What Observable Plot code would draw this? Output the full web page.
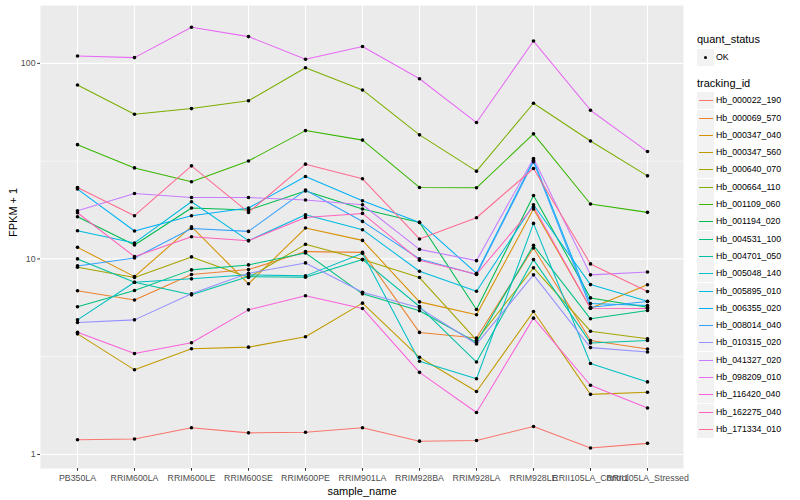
<!DOCTYPE html>
<html>
<head>
<meta charset="utf-8">
<script src="https://cdn.jsdelivr.net/npm/d3@7"></script>
<script src="https://cdn.jsdelivr.net/npm/@observablehq/plot@0.6"></script>
<style>
  body { margin: 0; background: #fff; font-family: "Liberation Sans", Arial, sans-serif; }
  #wrap { position: relative; width: 800px; height: 500px; }
  .lg { position: absolute; font-family: "Liberation Sans", Arial, sans-serif; color: #000; white-space: nowrap; }
  .lgtitle { font-size: 11px; }
  .lglab { font-size: 8.8px; }
  .key { position: absolute; width: 17px; height: 17px; background: #F2F2F2; }
</style>
</head>
<body>
<div id="wrap"></div>
<script>
const samples = ["PB350LA","RRIM600LA","RRIM600LE","RRIM600SE","RRIM600PE","RRIM901LA","RRIM928BA","RRIM928LA","RRIM928LE","RRII105LA_Control","RRII105LA_Stressed"];

const trackingIds = ["Hb_000022_190","Hb_000069_570","Hb_000347_040","Hb_000347_560","Hb_000640_070","Hb_000664_110","Hb_001109_060","Hb_001194_020","Hb_004531_100","Hb_004701_050","Hb_005048_140","Hb_005895_010","Hb_006355_020","Hb_008014_040","Hb_010315_020","Hb_041327_020","Hb_098209_010","Hb_116420_040","Hb_162275_040","Hb_171334_010"];

const colors = ["#F8766D","#EA8331","#D89000","#C09B00","#A3A500","#7CAE00","#39B600","#00BB4E","#00BF7D","#00C1A3","#00BFC4","#00BAE0","#00B0F6","#35A2FF","#9590FF","#C77CFF","#E76BF3","#FA62DB","#FF62BC","#FF6C91"];

// FPKM + 1 per tracking_id, in sample order
const Hb_000022_190 = [1.19,1.20,1.37,1.29,1.30,1.37,1.17,1.18,1.39,1.08,1.14];
const Hb_000069_570 = [6.87,6.16,8.32,8.82,10.90,10.80,4.21,3.94,11.38,3.83,3.46];
const Hb_000347_040 = [11.46,8.12,14.61,7.46,14.39,12.44,6.03,5.18,17.99,5.60,7.38];
const Hb_000347_560 = [4.14,2.71,3.47,3.54,4.00,5.94,3.14,2.10,5.38,2.03,2.08];
const Hb_000640_070 = [9.06,8.03,10.24,8.03,11.87,9.92,8.03,3.84,9.00,4.27,3.91];
const Hb_000664_110 = [77.5,54.9,58.7,64.4,95.0,73.1,43.1,28.1,62.5,40.1,26.6];
const Hb_001109_060 = [38.4,29.2,24.8,31.7,45.3,40.5,23.2,23.1,43.6,19.1,17.3];
const Hb_001194_020 = [16.44,11.79,18.20,17.78,22.24,17.99,15.37,5.51,21.11,6.32,5.66];
const Hb_004531_100 = [5.69,6.89,8.79,9.32,10.73,6.63,5.43,3.74,11.73,4.94,5.45];
const Hb_004701_050 = [10.00,7.60,6.55,8.12,8.06,9.92,5.71,2.97,9.92,3.72,3.83];
const Hb_005048_140 = [4.88,7.60,7.91,8.29,8.19,10.68,3.00,2.44,15.19,2.92,2.35];
const Hb_005895_010 = [13.94,12.07,19.60,12.40,16.83,14.11,8.65,6.83,18.93,7.39,6.07];
const Hb_006355_020 = [22.76,13.89,16.63,18.20,26.39,19.84,15.37,8.44,32.0,5.91,5.78];
const Hb_008014_040 = [9.21,10.12,14.32,13.83,22.49,15.55,10.00,8.32,31.36,5.66,6.06];
const Hb_010315_020 = [4.73,4.88,6.63,8.44,9.54,6.75,5.62,3.67,8.29,3.52,3.34];
const Hb_041327_020 = [17.64,21.61,20.62,20.62,20.00,18.93,11.19,9.80,32.61,8.29,8.58];
const Hb_098209_010 = [109,107,153,137,105,122,83.4,49.8,130,57.6,35.4];
const Hb_116420_040 = [4.22,3.28,3.73,5.49,6.48,5.58,2.63,1.64,4.98,2.26,1.73];
const Hb_162275_040 = [17.23,10.27,12.99,12.40,16.30,17.09,9.84,8.35,18.49,5.60,5.58];
const Hb_171334_010 = [23.19,16.63,29.92,17.29,30.52,25.69,12.65,16.24,28.99,9.43,6.81];

const seriesValues = [Hb_000022_190,Hb_000069_570,Hb_000347_040,Hb_000347_560,Hb_000640_070,Hb_000664_110,Hb_001109_060,Hb_001194_020,Hb_004531_100,Hb_004701_050,Hb_005048_140,Hb_005895_010,Hb_006355_020,Hb_008014_040,Hb_010315_020,Hb_041327_020,Hb_098209_010,Hb_116420_040,Hb_162275_040,Hb_171334_010];

const yTicks = [1, 10, 100];
const yMinor = [3.1623, 31.623];
const yDomain = [0.848, 197.6];

const data = [];
trackingIds.forEach((id, i) => {
  seriesValues[i].forEach((v, j) => data.push({id, sample: samples[j], value: v, status: "OK"}));
});

const chart = Plot.plot({
  width: 800,
  height: 500,
  marginLeft: 40,
  marginRight: 117,
  marginTop: 5,
  marginBottom: 32,
  style: {fontFamily: "Liberation Sans, Arial, sans-serif", fontSize: "8.8px", background: "white"},
  x: {type: "point", domain: samples, padding: 0.6},
  y: {type: "log", domain: yDomain},
  color: {domain: trackingIds, range: colors},
  marks: [
    Plot.frame({fill: "#EBEBEB", stroke: null}),
    Plot.ruleY(yMinor, {stroke: "white", strokeWidth: 0.55}),
    Plot.ruleY(yTicks, {stroke: "white", strokeWidth: 1.1}),
    Plot.ruleX(samples, {stroke: "white", strokeWidth: 1.1}),
    Plot.line(data, {x: "sample", y: "value", z: "id", stroke: "id", strokeWidth: 1.05}),
    Plot.dot(data, {x: "sample", y: "value", fill: "black", r: 1.8, stroke: null}),
    Plot.axisY({ticks: yTicks, tickFormat: d => String(d), tickSize: 2.75, tickPadding: 2.2, label: null, fill: "#4D4D4D", stroke: "#333333", fontSize: 8.8}),
    Plot.axisX({tickSize: 2.75, tickPadding: 3, label: null, fill: "#4D4D4D", stroke: "#333333", fontSize: 8.8}),
    Plot.text(["FPKM + 1"], {frameAnchor: "left", rotate: -90, dx: -27, fontSize: 11, fill: "black"}),
    Plot.text(["sample_name"], {frameAnchor: "bottom", lineAnchor: "middle", dy: 23, fontSize: 11, fill: "black"})
  ]
});

const wrap = document.getElementById("wrap");
wrap.appendChild(chart);

function addDiv(cls, text, left, top, extra) {
  const d = document.createElement("div");
  d.className = cls;
  if (text !== null) d.textContent = text;
  d.style.left = left + "px";
  d.style.top = top + "px";
  if (extra) Object.assign(d.style, extra);
  wrap.appendChild(d);
  return d;
}

// quant_status legend
addDiv("lg lgtitle", "quant_status", 697, 33);
const k0 = addDiv("key", null, 697, 49);
const dot = document.createElement("div");
Object.assign(dot.style, {position: "absolute", left: "6.7px", top: "6.7px", width: "3.6px", height: "3.6px", borderRadius: "50%", background: "black"});
k0.appendChild(dot);
addDiv("lg lglab", "OK", 716, 51.5);

// tracking_id legend
addDiv("lg lgtitle", "tracking_id", 697, 77);
trackingIds.forEach((id, i) => {
  const cy = 100.7 + i * 17.3;
  const k = addDiv("key", null, 697, cy - 8.5);
  const ln = document.createElement("div");
  Object.assign(ln.style, {position: "absolute", left: "1.5px", top: "8px", width: "14px", height: "1.1px", background: colors[i]});
  k.appendChild(ln);
  addDiv("lg lglab", id, 716, cy - 5.5);
});
</script>
</body>
</html>
